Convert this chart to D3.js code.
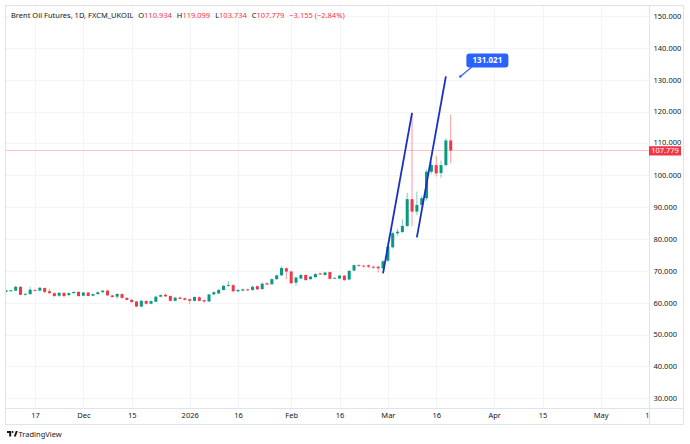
<!DOCTYPE html>
<html>
<head>
<meta charset="utf-8">
<script src="https://cdn.jsdelivr.net/npm/d3@7"></script>
<style>
body { margin: 0; background: #fff; }
svg text { font-family: "Noto Sans", Roboto, sans-serif; }
</style>
</head>
<body>
<script>
// daily bars, Brent (FXCM_UKOIL)
var dates = [
  "2025-11-07","2025-11-10","2025-11-11","2025-11-12","2025-11-13","2025-11-14","2025-11-17","2025-11-18",
  "2025-11-19","2025-11-20","2025-11-21","2025-11-24","2025-11-25","2025-11-26","2025-11-27","2025-11-28",
  "2025-12-01","2025-12-02","2025-12-03","2025-12-04","2025-12-05","2025-12-08","2025-12-09","2025-12-10",
  "2025-12-11","2025-12-12","2025-12-15","2025-12-16","2025-12-17","2025-12-18","2025-12-19","2025-12-22",
  "2025-12-23","2025-12-24","2025-12-26","2025-12-29","2025-12-30","2025-12-31","2026-01-02","2026-01-05",
  "2026-01-06","2026-01-07","2026-01-08","2026-01-09","2026-01-12","2026-01-13","2026-01-14","2026-01-15",
  "2026-01-16","2026-01-19","2026-01-20","2026-01-21","2026-01-22","2026-01-23","2026-01-26","2026-01-27",
  "2026-01-28","2026-01-29","2026-01-30","2026-02-02","2026-02-03","2026-02-04","2026-02-05","2026-02-06",
  "2026-02-09","2026-02-10","2026-02-11","2026-02-12","2026-02-13","2026-02-16","2026-02-17","2026-02-18",
  "2026-02-19","2026-02-20","2026-02-23","2026-02-24","2026-02-25","2026-02-26","2026-02-27","2026-03-02",
  "2026-03-03","2026-03-04","2026-03-05","2026-03-06","2026-03-09","2026-03-10","2026-03-11","2026-03-12",
  "2026-03-13","2026-03-16","2026-03-17","2026-03-18","2026-03-19"
];
var opens = [
  63.4,63.6,63.8,65.0,62.5,62.7,64.0,63.8,64.6,63.6,63.0,62.2,63.1,62.4,63.0,63.4,
  62.2,63.2,62.2,62.7,63.3,63.8,62.3,61.9,62.7,61.5,60.9,60.4,58.8,60.5,59.7,60.3,
  61.9,62.5,62.1,60.6,61.6,61.4,61.1,60.6,61.7,60.8,60.4,62.6,62.9,64.0,65.3,65.5,
  63.6,63.8,64.2,64.0,65.2,64.3,66.1,65.8,67.4,68.6,70.8,69.8,66.3,67.6,68.7,67.4,
  68.0,69.2,68.7,69.6,67.6,67.6,68.5,67.3,70.1,71.8,71.6,71.75,71.3,71.3,70.8,73.2,
  77.4,81.8,82.2,84.1,92.5,88.6,90.7,92.8,101.1,103.2,100.7,103.2,110.934
];
var highs = [
  64.1,64.0,65.3,65.2,63.0,65.0,64.3,64.9,64.8,64.3,63.2,63.3,63.3,63.2,63.5,63.6,
  63.4,63.4,62.9,63.5,64.0,64.1,62.5,63.0,63.0,61.8,61.2,60.6,60.8,60.9,60.7,62.1,
  62.6,62.9,62.3,61.8,62.0,61.6,61.3,62.0,62.0,61.0,62.8,63.6,64.3,65.6,66.8,65.8,
  64.3,64.5,64.4,65.3,65.4,66.3,66.4,67.6,68.8,71.4,71.1,70.0,68.2,69.0,68.9,68.4,
  69.3,69.4,69.8,69.8,68.0,68.7,68.7,70.2,72.0,72.2,72.0,72.0,71.7,71.6,73.4,79.0,
  82.3,83.2,86.2,94.5,119.6,94.9,93.5,101.8,104.2,106.1,104.6,111.6,119.099
];
var lows = [
  63.2,63.4,63.6,62.4,62.2,62.5,63.6,63.6,62.9,62.9,61.8,61.8,61.7,62.1,62.9,61.9,
  62.0,62.0,62.0,62.5,63.1,62.1,61.6,61.2,61.3,60.7,60.0,58.6,58.6,59.4,59.5,60.2,
  61.7,61.8,60.4,60.4,61.0,60.7,59.6,60.4,60.4,60.0,60.2,62.4,62.7,63.8,64.9,63.3,
  63.3,63.6,63.6,63.8,64.0,64.1,65.5,65.6,67.2,68.4,67.4,65.9,65.3,67.4,66.9,67.2,
  67.8,68.7,68.5,67.3,67.4,67.4,66.8,67.1,69.9,71.3,71.0,70.9,70.6,69.5,70.5,72.8,
  77.0,81.0,81.8,83.8,84.0,87.5,89.8,92.0,100.5,99.6,99.2,102.8,103.734
];
var closes = [
  63.9,63.9,65.0,62.5,62.8,64.1,63.8,64.7,63.4,63.0,62.1,63.1,62.1,63.0,63.4,62.1,
  63.2,62.1,62.7,63.3,63.8,62.3,61.8,62.75,61.5,60.9,60.2,58.8,60.6,59.7,60.5,61.9,
  62.4,62.0,60.6,61.6,61.2,60.9,60.6,61.8,60.6,60.4,62.6,63.3,64.0,65.3,65.6,63.6,
  64.0,64.2,63.9,65.0,64.2,66.0,65.7,67.4,68.6,70.9,69.8,66.1,67.9,68.7,67.1,68.2,
  69.0,68.9,69.5,67.5,67.8,68.5,67.1,70.0,71.8,71.6,71.4,71.3,71.0,70.8,73.0,77.6,
  81.8,82.3,84.1,92.5,88.6,90.7,92.8,101.1,103.2,100.6,103.2,110.934,107.779
];

// axis ticks (time axis is indexed by bar number, future bars included)
var xTickLabels = ["17","Dec","15","2026","16","Feb","16","Mar","16","Apr","15","May","1"];
var xTickBars = [6,16,26,38,48,59,69,79,89,101,111,123,132.6];
var yTicks = [30,40,50,60,70,80,90,100,110,120,130,140,150];

// drawn trend lines: [bar, price] -> [bar, price]
var trendLines = [
  [[78, 69.2], [84, 119.6]],
  [[85, 80.5], [91, 131.021]]
];
var calloutBar = 94, calloutValue = 131.021;
var lastPrice = 107.779;

var W = 690, H = 444;
var pane = {left: 6, top: 6, right: 649, bottom: 408};
var green = "#089981", red = "#F23645";

var svg = d3.select("body").append("svg")
  .attr("width", W)
  .attr("height", H);

var x = d3.scaleLinear().domain([0, 133]).range([pane.left, 648.9]);
var y = d3.scaleLinear().domain([30, 150]).range([398.3, 16]);

var bars = dates.map(function(d, i) {
  return {date: d, i: i, o: opens[i], h: highs[i], l: lows[i], c: closes[i]};
});

svg.append("defs").append("clipPath").attr("id", "paneClip")
  .append("rect")
  .attr("x", pane.left).attr("y", pane.top)
  .attr("width", pane.right - pane.left).attr("height", pane.bottom - pane.top);

// grid
var grid = svg.append("g");
grid.selectAll(".hg").data(yTicks).enter().append("line")
  .attr("x1", pane.left).attr("x2", pane.right)
  .attr("y1", function(d) { return Math.round(y(d)) + 0.5; })
  .attr("y2", function(d) { return Math.round(y(d)) + 0.5; })
  .attr("stroke", "#f2f4f8");
grid.selectAll(".vg").data(xTickBars.slice(0, 12)).enter().append("line")
  .attr("y1", pane.top).attr("y2", pane.bottom)
  .attr("x1", function(d) { return Math.round(x(d)) + 0.5; })
  .attr("x2", function(d) { return Math.round(x(d)) + 0.5; })
  .attr("stroke", "#f2f4f8");

// frame
svg.append("rect")
  .attr("x", 5.5).attr("y", 5.5).attr("width", 678).attr("height", 419)
  .attr("fill", "none").attr("stroke", "#e0e3eb");
svg.append("line").attr("x1", pane.right + 0.5).attr("x2", pane.right + 0.5)
  .attr("y1", 6).attr("y2", 424).attr("stroke", "#e0e3eb");
svg.append("line").attr("x1", 6).attr("x2", 684)
  .attr("y1", pane.bottom + 0.5).attr("y2", pane.bottom + 0.5).attr("stroke", "#e0e3eb");

var plot = svg.append("g").attr("clip-path", "url(#paneClip)");

// last price line
plot.append("line")
  .attr("x1", pane.left).attr("x2", pane.right)
  .attr("y1", y(lastPrice)).attr("y2", y(lastPrice))
  .attr("stroke", red).attr("stroke-opacity", 0.3);

// candles
var candle = plot.selectAll(".candle").data(bars).enter().append("g").attr("class", "candle");
candle.append("line")
  .attr("x1", function(d) { return x(d.i); })
  .attr("x2", function(d) { return x(d.i); })
  .attr("y1", function(d) { return y(d.h); })
  .attr("y2", function(d) { return y(d.l); })
  .attr("stroke", function(d) { return d.c >= d.o ? green : red; })
  .attr("stroke-opacity", 0.5)
  .attr("stroke-width", 1);
candle.append("rect")
  .attr("x", function(d) { return x(d.i) - 1.5; })
  .attr("width", 3)
  .attr("y", function(d) { return y(Math.max(d.o, d.c)); })
  .attr("height", function(d) { return Math.max(0.8, Math.abs(y(d.o) - y(d.c))); })
  .attr("fill", function(d) { return d.c >= d.o ? green : red; });

// trend lines
plot.selectAll(".trend").data(trendLines).enter().append("line")
  .attr("x1", function(d) { return x(d[0][0]); })
  .attr("y1", function(d) { return y(d[0][1]); })
  .attr("x2", function(d) { return x(d[1][0]); })
  .attr("y2", function(d) { return y(d[1][1]); })
  .attr("stroke", "#1631c4")
  .attr("stroke-width", 1.8);

// price callout
var cx = x(calloutBar), cy = y(calloutValue);
var callout = svg.append("g");
callout.append("line")
  .attr("x1", cx).attr("y1", cy).attr("x2", cx + 12).attr("y2", cy - 10)
  .attr("stroke", "#2962ff").attr("stroke-width", 1.2);
callout.append("circle").attr("cx", cx).attr("cy", cy).attr("r", 1.3).attr("fill", "#2962ff");
callout.append("rect")
  .attr("x", cx + 6).attr("y", cy - 23).attr("width", 42).attr("height", 14)
  .attr("rx", 3).attr("fill", "#2962ff");
callout.append("text")
  .attr("x", cx + 27).attr("y", cy - 16)
  .attr("text-anchor", "middle").attr("dy", "0.35em")
  .attr("fill", "#fff").attr("font-size", "8px").attr("font-weight", "bold")
  .text(d3.format(".3f")(calloutValue));

// price axis
var yAxis = d3.axisRight(y).tickValues(yTicks).tickSize(0).tickPadding(0)
  .tickFormat(d3.format(".3f"));
var ya = svg.append("g").attr("transform", "translate(653.5,0)").call(yAxis);
ya.select(".domain").remove();
ya.selectAll("text").attr("font-size", "7.5px").attr("fill", "#131722")
  .style("font-family", "'Noto Sans', Roboto, sans-serif");
// the 110 label sits just above the last-price tag, as in the original
ya.selectAll(".tick").filter(function(d) { return d === 110; })
  .select("text").attr("dy", "0.2em");

// last price tag
svg.append("rect")
  .attr("x", 649).attr("y", y(lastPrice) - 4.3).attr("width", 32).attr("height", 9.3)
  .attr("fill", red);
svg.append("text")
  .attr("x", 665).attr("y", y(lastPrice) + 0.3).attr("dy", "0.35em")
  .attr("text-anchor", "middle").attr("fill", "#fff").attr("font-size", "7.5px")
  .text(d3.format(".3f")(lastPrice));

// time axis
var xAxis = d3.axisBottom(x).tickValues(xTickBars).tickSize(0).tickPadding(0)
  .tickFormat(function(d, i) { return xTickLabels[i]; });
var xa = svg.append("g").attr("transform", "translate(0,413)").call(xAxis);
xa.select(".domain").remove();
xa.selectAll("text").attr("font-size", "7.5px").attr("fill", "#131722")
  .style("font-family", "'Noto Sans', Roboto, sans-serif");

// header legend
var legend = svg.append("text").attr("x", 11).attr("y", 17.5)
  .attr("font-size", "7.5px").attr("fill", "#131722");
legend.append("tspan").text("Brent Oil Futures, 1D, FXCM_UKOIL");
var ohlc = [["O", opens[92]], ["H", highs[92]], ["L", lows[92]], ["C", closes[92]]];
ohlc.forEach(function(p) {
  legend.append("tspan").attr("dx", 5).text(p[0]);
  legend.append("tspan").attr("fill", red).text(d3.format(".3f")(p[1]));
});
legend.append("tspan").attr("dx", 5).attr("fill", red).text("\u22123.155 (\u22122.84%)");

// TradingView mark
var logo = svg.append("g").attr("fill", "#131722");
logo.append("path").attr("d", "M7,431 h4.2 v5.5 h-2 v-3.6 h-2.2 z");
logo.append("circle").attr("cx", 12.6).attr("cy", 432).attr("r", 1);
logo.append("path").attr("d", "M13.8,436.5 l2,-5.5 h2 l-2,5.5 z");
svg.append("text").attr("x", 18.5).attr("y", 436.5)
  .attr("font-size", "7.5px").attr("fill", "#131722").text("TradingView");
</script>
</body>
</html>
